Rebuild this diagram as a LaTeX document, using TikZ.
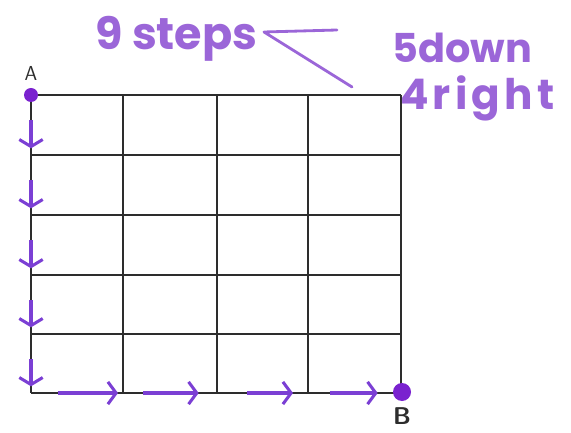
\documentclass[tikz,border=0pt]{standalone}
\usepackage{fontspec}
\newfontfamily\handfont{Poppins}
\usetikzlibrary{positioning,arrows.meta,calc}
\definecolor{penC}{HTML}{9B66D8}
\definecolor{stepC}{HTML}{7B3FD4}
\definecolor{dotC}{HTML}{7A22CF}
\definecolor{gridC}{HTML}{2D2D2D}

\begin{document}
\begin{tikzpicture}[
  x=0.03cm, y=-0.03cm,
  every node/.style={font=\sffamily, text=gridC},
  gridline/.style={draw=gridC, line width=1.1pt},
  enddot/.style={circle, fill=dotC, inner sep=0pt, minimum size=#1},
  downstep/.style={-{Straight Barb[length=6pt,width=20pt]}, stepC,
    line width=2.6pt, shorten <=0.75cm, shorten >=0.2cm},
  rightstep/.style={-{Straight Barb[length=7pt,width=19pt]}, stepC,
    line width=2.6pt},
  pentext/.style={font=\handfont\bfseries\fontsize{#1}{#1}\selectfont,
    text=penC, anchor=base west, inner sep=0pt},
  pointer/.style={draw=penC, line width=2.4pt, line cap=round, line join=round},
]
\useasboundingbox (0,0) rectangle (571,433);

% ── Grid points ──
\foreach \x [count=\i from 0] in {31,123,217,308,401}
  \foreach \y [count=\j from 0] in {95,155,215,275,334,393}
    \coordinate (p\i\j) at (\x,\y);

% ── Grid ──
\foreach \j in {0,...,5}
  \draw[gridline] (p0\j) -- (p4\j);
\foreach \i in {0,...,4}
  \draw[gridline] (p\i0) -- (p\i5);

% ── Steps down ──
\foreach \j [evaluate=\j as \k using int(\j+1)] in {0,...,4}
  \draw[downstep] (p0\j) -- (p0\k);

% ── Steps right ──
\foreach \i/\a/\b [evaluate=\i as \k using int(\i+1)] in
    {0/0.8/0.15, 1/0.6/0.55, 2/0.9/0.45, 3/0.65/0.7}
  \draw[rightstep, shorten <=\a cm, shorten >=\b cm] (p\i5) -- (p\k5);

% ── End points ──
\node[enddot=0.42cm] (dotA) at (p00) {};
\node[enddot=0.54cm] (dotB) at (402,392) {};
\node[above=0.1cm of dotA, font=\sffamily\LARGE] (labA) {A};
\node[below=0.08cm of dotB, font=\sffamily\bfseries\huge] (labB) {B};

% ── Notes ──
\node[pentext=38] (steps) at (95,50) {9 steps};
\node[pentext=34] (down) at (392,63) {5down};
\node[pentext=36] (right) at (400,110) {\addfontfeature{LetterSpace=10}4right};

% ── Pointer ──
\coordinate (ptrTop) at (337,30);
\coordinate (ptrTip) at (264,32);
\coordinate (ptrEnd) at (352,87);
\draw[pointer] (ptrTop) -- (ptrTip) -- (ptrEnd);

\end{tikzpicture}
\end{document}
